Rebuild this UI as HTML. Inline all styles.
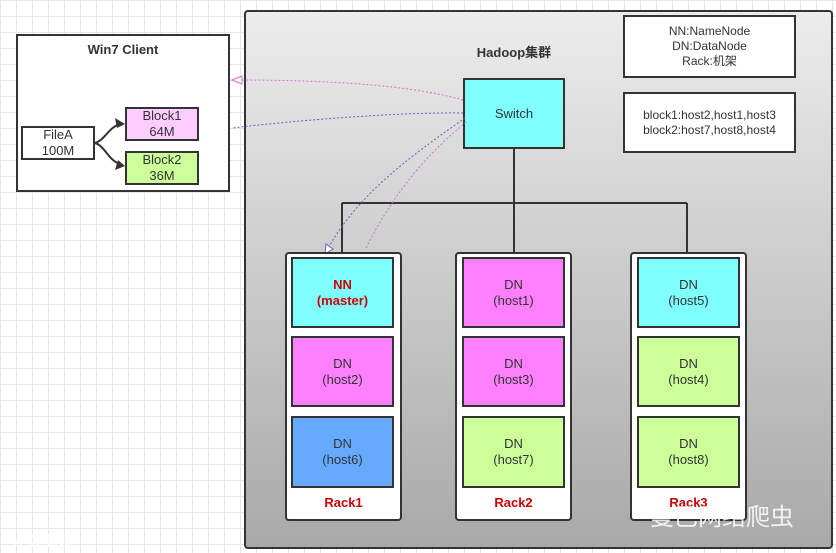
<!DOCTYPE html>
<html><head><meta charset="utf-8"><style>
body{margin:0;width:836px;height:553px;overflow:hidden;font-family:"Liberation Sans","Noto Sans CJK SC",sans-serif;
background-color:#fff;background-image:linear-gradient(#e6e6e6 1px,transparent 1px),linear-gradient(90deg,#e6e6e6 1px,transparent 1px);background-size:16px 16px;position:relative}
.a{position:absolute;box-sizing:border-box}
.b{border:2px solid #333;display:flex;align-items:center;justify-content:center;text-align:center;font-size:13px;color:#333;line-height:16px}
.r{border:2px solid #333;border-radius:4px;background:#fff}
.lbl{color:#c00;font-weight:bold;font-size:13px;text-align:center}
</style></head><body>
<div class="a" style="left:244px;top:10px;width:589px;height:539px;border:2px solid #333;border-radius:4px;background:linear-gradient(#ececec,#a9a9a9)"></div>
<div class="a" style="left:244px;top:42px;width:540px;text-align:center;font-weight:bold;font-size:13px;color:#333">Hadoop集群</div>
<div class="a" style="left:16px;top:34px;width:214px;height:158px;border:2px solid #333;background:#fff"></div>
<div class="a" style="left:16px;top:42px;width:214px;text-align:center;font-weight:bold;font-size:13px;color:#333">Win7 Client</div>
<div class="a b" style="left:21px;top:126px;width:74px;height:34px;background:#fff">FileA<br>100M</div>
<div class="a b" style="left:125px;top:107px;width:74px;height:34px;background:#ffccff">Block1<br>64M</div>
<div class="a b" style="left:125px;top:151px;width:74px;height:34px;background:#ccff99">Block2<br>36M</div>
<div class="a b" style="left:623px;top:15px;width:173px;height:63px;background:#fff;font-size:12px;line-height:15px">NN:NameNode<br>DN:DataNode<br>Rack:机架</div>
<div class="a b" style="left:623px;top:92px;width:173px;height:61px;background:#fff;font-size:12px;line-height:15px">block1:host2,host1,host3<br>block2:host7,host8,host4</div>
<div class="a b" style="left:463px;top:78px;width:102px;height:71px;background:#80ffff">Switch</div>
<svg class="a" style="left:0;top:0" width="836" height="553">
<g stroke="#333" stroke-width="2" fill="none">
<path d="M514 149V203M342 203H687M342 203V258M514 203V258M687 203V258"/>
<path d="M95 143C105 140 108 128 120 124M95 143C105 146 108 160 120 164"/>
</g>
<path d="M125 124l-10-6 2 10z M125 166l-10 4 3-10z" fill="#333"/>
<path d="M463 100C400 82 300 80 232 80" stroke="#d070d0" stroke-dasharray="2 2" fill="none"/>
<path d="M232 80l10-4v8z" fill="#fff" stroke="#d070d0"/>
<path d="M463 113C400 112 300 120 232 128" stroke="#6060c0" stroke-dasharray="2 2" fill="none"/>
<path d="M465 118C420 150 360 190 327 250" stroke="#6060c0" stroke-dasharray="2 2" fill="none"/>
<path d="M325 254l1-10 7 5z" fill="#fff" stroke="#6060c0"/>
<path d="M466 122C420 160 390 200 365 250" stroke="#d070d0" stroke-dasharray="2 2" fill="none"/>
</svg>
<div class="a r" style="left:285px;top:252px;width:117px;height:269px"></div>
<div class="a r" style="left:455px;top:252px;width:117px;height:269px"></div>
<div class="a r" style="left:630px;top:252px;width:117px;height:269px"></div>
<div class="a b" style="left:291px;top:257px;width:103px;height:71px;background:#80ffff;color:#c00;font-weight:bold">NN<br>(master)</div>
<div class="a b" style="left:291px;top:336px;width:103px;height:71px;background:#ff80ff">DN<br>(host2)</div>
<div class="a b" style="left:291px;top:416px;width:103px;height:72px;background:#66aaff">DN<br>(host6)</div>
<div class="a b" style="left:462px;top:257px;width:103px;height:71px;background:#ff80ff">DN<br>(host1)</div>
<div class="a b" style="left:462px;top:336px;width:103px;height:71px;background:#ff80ff">DN<br>(host3)</div>
<div class="a b" style="left:462px;top:416px;width:103px;height:72px;background:#ccff99">DN<br>(host7)</div>
<div class="a b" style="left:637px;top:257px;width:103px;height:71px;background:#80ffff">DN<br>(host5)</div>
<div class="a b" style="left:637px;top:336px;width:103px;height:71px;background:#ccff99">DN<br>(host4)</div>
<div class="a b" style="left:637px;top:416px;width:103px;height:72px;background:#ccff99">DN<br>(host8)</div>
<div class="a lbl" style="left:285px;top:495px;width:117px">Rack1</div>
<div class="a lbl" style="left:455px;top:495px;width:117px">Rack2</div>
<div class="a lbl" style="left:630px;top:495px;width:117px">Rack3</div>
<div class="a" style="left:650px;top:497px;font-size:24px;color:rgba(255,255,255,0.85)">曼巴网络爬虫</div>
<div class="a" style="left:10px;top:528px;font-size:16px;color:rgba(255,255,255,0.85)">大数据境</div>
</body></html>
